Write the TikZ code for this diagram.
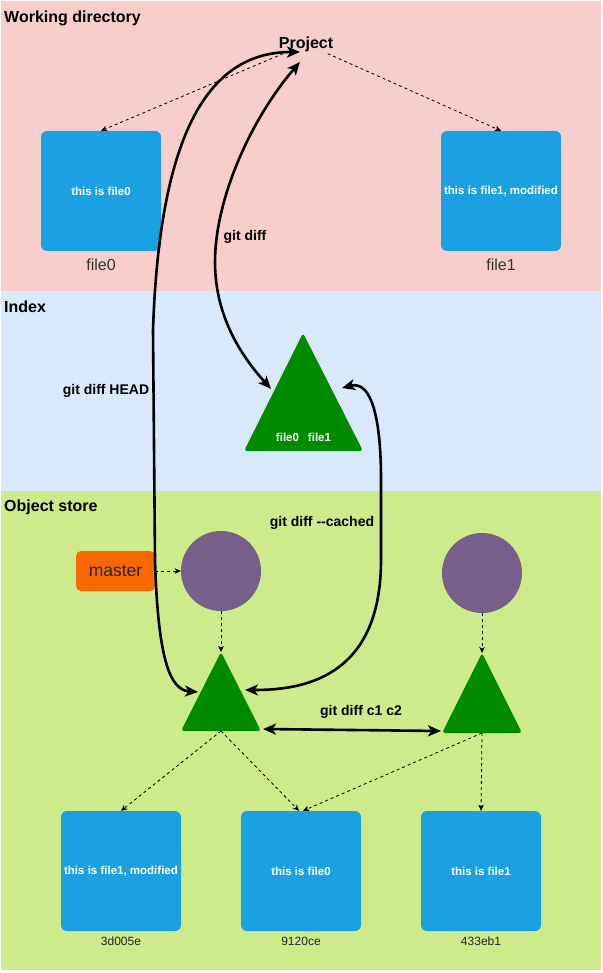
\documentclass[tikz,border=0pt]{standalone}
\usepackage{fontspec}
\setmainfont{Liberation Sans}
\usetikzlibrary{arrows.meta}
\definecolor{wdbg}{HTML}{F8CECC}
\definecolor{ixbg}{HTML}{DAE8FC}
\definecolor{osbg}{HTML}{CDEB8B}
\definecolor{fileblue}{HTML}{1BA1E2}
\definecolor{treegreen}{HTML}{008A00}
\definecolor{commitpurple}{HTML}{76608A}
\definecolor{masterorange}{HTML}{FA6800}
\definecolor{lblgray}{HTML}{333333}
\tikzset{
  filebox/.style={rectangle, rounded corners=6pt, fill=fileblue, minimum width=120pt, minimum height=120pt, inner sep=0pt, text=white, font=\bfseries\fontsize{11.5}{13}\selectfont},
  namelbl/.style={inner sep=1pt, text=lblgray, font=\fontsize{16}{18}\selectfont},
  hashlbl/.style={inner sep=1pt, text=black!85, font=\fontsize{12}{14}\selectfont},
  header/.style={anchor=west, inner sep=0pt, font=\bfseries\fontsize{16}{18}\selectfont},
  difflbl/.style={inner sep=1pt, font=\bfseries\fontsize{14}{16}\selectfont},
  tritext/.style={inner sep=0pt, text=white, font=\bfseries\fontsize{11.5}{13}\selectfont},
  commit/.style={circle, fill=commitpurple, minimum size=80pt, inner sep=0pt},
  masterbox/.style={rectangle, rounded corners=5pt, fill=masterorange, minimum width=79pt, minimum height=40pt, inner sep=0pt, text=black!85, font=\fontsize{17.5}{20}\selectfont},
  dasharrow/.style={draw=black, line width=0.8pt, dash pattern=on 3pt off 3pt, -{Stealth[length=6pt,width=5.5pt,inset=1.5pt]}},
  bigarrow/.style={draw=black, line width=2.6pt, {Stealth[length=13pt,width=11pt,inset=3.5pt]}-{Stealth[length=13pt,width=11pt,inset=3.5pt]}},
  treefill/.style={fill=treegreen, rounded corners=3pt}
}
\begin{document}
\begin{tikzpicture}[x=1pt,y=-1pt]
\useasboundingbox (0,0) rectangle (602,973);
\fill[white] (0,0) rectangle (602,973);
\fill[wdbg] (1,1) rectangle (601,291);
\fill[ixbg] (1,291) rectangle (601,491);
\fill[osbg] (1,491) rectangle (601,970);

% headers
\node[header] (hwd) at (4,18) {Working directory};
\node[header] (hix) at (4,307) {Index};
\node[header] (hos) at (4,507) {Object store};

% working directory
\node[inner sep=2pt, font=\bfseries\fontsize{16}{18}\selectfont] (proj) at (306,44) {Project};
\node[filebox] (wf0) at (101,191) {this is file0};
\node[filebox] (wf1) at (501,191) {this is file1, modified};
\node[namelbl] (wf0l) at (101,265) {file0};
\node[namelbl] (wf1l) at (501,265) {file1};

% index tree
\fill[treefill] (303.5,451) -- (244,451) -- (303,333) -- (363,451) -- cycle;
\node[tritext] (ixtxt) at (303.5,437) {file0\hspace{9pt}file1};
\coordinate (ixL) at (271,389);
\coordinate (ixR) at (342,388);

% object store
\node[masterbox] (master) at (115.5,571) {master};
\node[commit] (c1) at (221,571) {};
\node[commit] (c2) at (482,573) {};
\fill[treefill] (221,731) -- (181,731) -- (221,652) -- (261,731) -- cycle;
\fill[treefill] (482,733) -- (442,733) -- (482,653) -- (522,733) -- cycle;
\coordinate (t1apex) at (221,652);
\coordinate (t1base) at (221,731);
\coordinate (t1L) at (198,692);
\coordinate (t1R) at (245,690);
\coordinate (t1Rb) at (263,729);
\coordinate (t2apex) at (482,653);
\coordinate (t2base) at (482,733);
\coordinate (t2Lb) at (441,731);
\coordinate (pjA) at (300,52);
\coordinate (pjB) at (300,62);

\node[filebox] (oA) at (121,871) {this is file1, modified};
\node[filebox] (oB) at (301,871) {this is file0};
\node[filebox] (oC) at (481,871) {this is file1};
\node[hashlbl] (oAl) at (121,941) {3d005e};
\node[hashlbl] (oBl) at (301,941) {9120ce};
\node[hashlbl] (oCl) at (481,941) {433eb1};

% dashed connectors
\draw[dasharrow] (proj) -- (wf0.north);
\draw[dasharrow] (proj) -- (wf1.north);
\draw[dasharrow] (master) -- (c1);
\draw[dasharrow] (c1) -- (t1apex);
\draw[dasharrow] (c2) -- (t2apex);
\draw[dasharrow] (t1base) -- (oA.north);
\draw[dasharrow] (t1base) -- ([xshift=-2pt]oB.north);
\draw[dasharrow] (t2base) -- ([xshift=2pt]oB.north);
\draw[dasharrow] (t2base) -- (oC.north);

% diff arrows
\draw[bigarrow] (t1L) .. controls (170,690) and (158,660) .. (155,560) -- (153,330) .. controls (160,120) and (215,52) .. (pjA);
\draw[bigarrow] (pjB) .. controls (250,120) and (215,200) .. (215,262) .. controls (215,320) and (245,360) .. (ixL);
\draw[bigarrow] (ixR) .. controls (372,380) and (381,420) .. (381,480) -- (381,560) .. controls (381,680) and (300,690) .. (t1R);
\draw[bigarrow] (t1Rb) -- (t2Lb);

\node[difflbl] (lhead) at (106,391) {git diff HEAD};
\node[difflbl] (ldiff) at (245,237) {git diff};
\node[difflbl] (lcached) at (322,523) {git diff -{}-cached};
\node[difflbl] (lc1c2) at (361,712) {git diff c1 c2};
\end{tikzpicture}
\end{document}
